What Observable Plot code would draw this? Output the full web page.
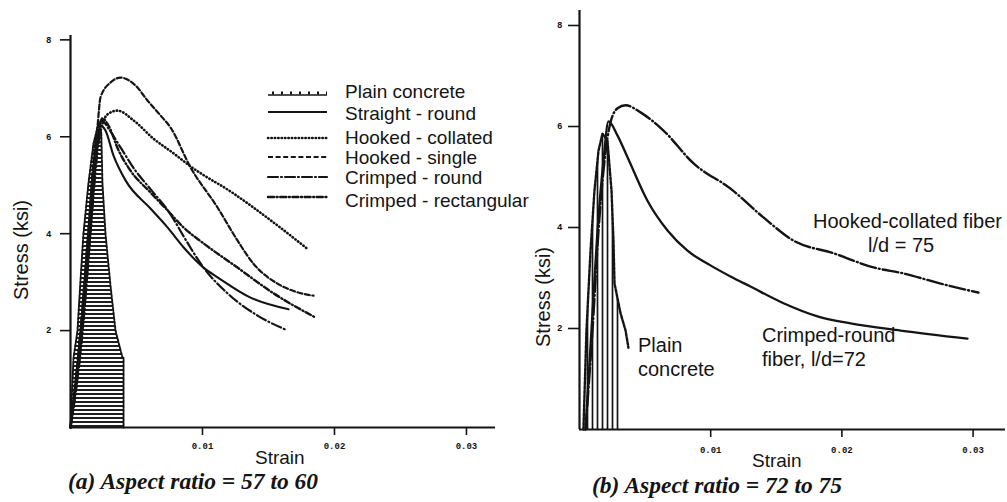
<!DOCTYPE html>
<html>
<head>
<meta charset="utf-8">
<script src="https://cdn.jsdelivr.net/npm/d3@7"></script>
<script src="https://cdn.jsdelivr.net/npm/@observablehq/plot@0.6"></script>
<style>
  body { margin: 0; background: #fff; }
  #root { position: relative; width: 1007px; height: 502px; overflow: hidden; background: #fff; }
  #root svg { position: absolute; top: 0; overflow: visible; }
</style>
</head>
<body>
<div id="root"></div>
<script>
// ---------------- data (strain, stress in ksi) ----------------
const strainTicks = [0.01, 0.02, 0.03];
const stressTicks = [2, 4, 6, 8];

// Panel (a): aspect ratio 57 to 60
const aPlainConcrete = [[0,0],[0.00023,1.44],[0.00053,2.0],[0.00075,3.0],[0.00098,4.0],[0.00136,5.04],[0.00174,5.86],[0.00212,6.27],[0.00233,6.1],[0.00242,5.04],[0.00265,4.0],[0.00303,2.93],[0.00341,2.0],[0.00394,1.44],[0.00402,1.44],[0.00402,0]];
const aStraightRound = [[0,0],[0.00083,2.0],[0.00144,4.07],[0.00197,5.72],[0.00227,6.23],[0.00265,6.13],[0.00326,5.61],[0.00417,5.10],[0.00606,4.52],[0.00735,4.13],[0.00856,3.72],[0.01008,3.30],[0.01114,3.10],[0.01364,2.68],[0.01652,2.44]];
const aHookedCollated = [[0,0],[0.00091,2.0],[0.00152,4.07],[0.00205,5.72],[0.00258,6.38],[0.00303,6.5],[0.00356,6.54],[0.00477,6.34],[0.00629,5.96],[0.0078,5.66],[0.00909,5.39],[0.01235,4.83],[0.01568,4.17],[0.01803,3.67]];
const aHookedSingle = [[0,0],[0.00076,2.0],[0.00136,4.07],[0.00174,5.51],[0.00205,6.23],[0.00227,6.81],[0.00303,7.12],[0.00379,7.22],[0.00492,7.06],[0.00583,6.75],[0.00682,6.44],[0.00758,6.19],[0.00909,5.37],[0.01114,4.54],[0.01265,3.86],[0.01386,3.38],[0.01568,2.97],[0.0172,2.79],[0.01841,2.72]];
const aCrimpedRound = [[0,0],[0.00076,2.0],[0.00136,4.07],[0.00189,5.72],[0.00235,6.34],[0.00288,6.17],[0.00379,5.78],[0.00492,5.30],[0.00606,4.92],[0.00758,4.40],[0.00856,3.95],[0.01008,3.30],[0.01189,2.77],[0.01417,2.31],[0.01629,2.02]];
const aCrimpedRect = [[0,0],[0.00091,2.0],[0.00152,4.07],[0.00197,5.72],[0.00242,6.38],[0.00288,6.23],[0.00364,5.72],[0.00455,5.30],[0.00606,4.85],[0.00735,4.48],[0.00856,4.13],[0.01008,3.80],[0.01265,3.30],[0.01538,2.77],[0.01856,2.27]];

// Panel (b): aspect ratio 72 to 75
const bPlainConcrete = [[0.0003,0],[0.00053,1.96],[0.00084,3.54],[0.00114,4.73],[0.00145,5.52],[0.00175,5.86],[0.00213,5.72],[0.00244,4.73],[0.00259,3.74],[0.00267,2.89],[0.00313,2.30],[0.00351,1.96],[0.00373,1.62]];
const bHookedCollated = [[0.00046,0],[0.00099,1.96],[0.00145,3.94],[0.00191,5.33],[0.00236,6.08],[0.0029,6.36],[0.00351,6.42],[0.00465,6.28],[0.0064,5.92],[0.00869,5.27],[0.01151,4.77],[0.01402,4.20],[0.01631,3.74],[0.01936,3.49],[0.02241,3.21],[0.0247,3.09],[0.02752,2.89],[0.03041,2.71]];
const bCrimpedRound = [[0.00046,0],[0.00091,1.96],[0.00137,3.94],[0.00183,5.33],[0.00221,6.1],[0.0029,5.82],[0.00366,5.39],[0.00518,4.53],[0.00671,3.94],[0.00823,3.54],[0.00998,3.25],[0.01151,3.03],[0.01303,2.83],[0.01555,2.50],[0.01814,2.24],[0.02066,2.10],[0.02447,1.96],[0.02957,1.80]];

const legendNames = ["Plain concrete", "Straight - round", "Hooked - collated", "Hooked - single", "Crimped - round", "Crimped - rectangular"];
const axisLabels = { x: "Strain", y: "Stress (ksi)" };
const captions = ["(a) Aspect ratio = 57 to 60", "(b) Aspect ratio = 72 to 75"];
const bNotes = [["Hooked-collated fiber", "l/d = 75"], ["Crimped-round", "fiber, l/d=72"], ["Plain", "concrete"]];

// ---------------- styles ----------------
const ink = "#141414";
const sty = {
  plain:      { stroke: ink, strokeWidth: 1.9, strokeDasharray: "3,1.5" },
  straight:   { stroke: ink, strokeWidth: 2.1 },
  collated:   { stroke: ink, strokeWidth: 2.6, strokeDasharray: "0.4,3", strokeLinecap: "round" },
  single:     { stroke: ink, strokeWidth: 2.2, strokeDasharray: "5,2.6" },
  crimpRound: { stroke: ink, strokeWidth: 2.2, strokeDasharray: "10,3,1,3", strokeLinecap: "round" },
  crimpRect:  { stroke: ink, strokeWidth: 2.4, strokeDasharray: "6,2.6,1,2.6", strokeLinecap: "round" },
  bCollated:  { stroke: ink, strokeWidth: 2.4, strokeDasharray: "16,3,1,3", strokeLinecap: "round" },
  bCrimped:   { stroke: ink, strokeWidth: 2.3 }
};
const X = d => d[0], Y = d => d[1];
const tickFont = { fontSize: 9, fontWeight: "bold", fontFamily: "Liberation Mono, DejaVu Sans Mono, monospace" };

function addPattern(svg, id, horizontal) {
  const defs = d3.select(svg).insert("defs", ":first-child");
  const p = defs.append("pattern").attr("id", id).attr("patternUnits", "userSpaceOnUse")
    .attr("width", horizontal ? 8 : 5).attr("height", horizontal ? 4 : 8);
  p.append("rect").attr("width", 8).attr("height", 8).attr("fill", "#fff");
  if (horizontal) p.append("line").attr("x1", 0).attr("x2", 8).attr("y1", 2).attr("y2", 2).attr("stroke", ink).attr("stroke-width", 1.9);
  else p.append("line").attr("x1", 2.5).attr("x2", 2.5).attr("y1", 0).attr("y2", 8).attr("stroke", ink).attr("stroke-width", 1.7);
}

// ---------------- panel (a) ----------------
const panelA = Plot.plot({
  width: 500, height: 502,
  marginLeft: 70, marginRight: 5, marginTop: 35, marginBottom: 75,
  x: { domain: [0, 0.0322] },
  y: { domain: [0, 8.09] },
  style: { background: "transparent", color: ink },
  marks: [
    Plot.areaY(aPlainConcrete, { x: X, y: Y, fill: "url(#hatchA)", curve: "linear" }),
    Plot.line(aPlainConcrete, { x: X, y: Y, curve: "linear", ...sty.plain }),
    Plot.line(aStraightRound, { x: X, y: Y, curve: "monotone-x", ...sty.straight }),
    Plot.line(aHookedCollated, { x: X, y: Y, curve: "monotone-x", ...sty.collated }),
    Plot.line(aHookedSingle, { x: X, y: Y, curve: "monotone-x", ...sty.single }),
    Plot.line(aCrimpedRound, { x: X, y: Y, curve: "monotone-x", ...sty.crimpRound }),
    Plot.line(aCrimpedRect, { x: X, y: Y, curve: "monotone-x", ...sty.crimpRect }),
    Plot.ruleX([0], { stroke: ink, strokeWidth: 2.2 }),
    Plot.ruleY([0], { stroke: ink, strokeWidth: 2.2 }),
    Plot.axisX({ ticks: strainTicks, tickFormat: d => d.toFixed(2), tickSize: 8, tickPadding: 7, strokeWidth: 1.6, label: null, ...tickFont }),
    Plot.axisY({ ticks: stressTicks, tickSize: 10, tickPadding: 9, strokeWidth: 1.6, label: null, ...tickFont })
  ]
});
addPattern(panelA, "hatchA", true);
panelA.style.left = "0px";

// ---------------- panel (b) ----------------
const panelB = Plot.plot({
  width: 507, height: 502,
  marginLeft: 79, marginRight: 2, marginTop: 10, marginBottom: 73,
  x: { domain: [0, 0.03247] },
  y: { domain: [0, 8.297] },
  style: { background: "transparent", color: ink },
  marks: [
    Plot.areaY(bPlainConcrete.filter(d => d[0] <= 0.0032), { x: X, y: Y, fill: "url(#hatchB)", curve: "linear" }),
    Plot.line(bPlainConcrete, { x: X, y: Y, curve: "linear", ...sty.plain, strokeWidth: 2.4 }),
    Plot.line(bHookedCollated, { x: X, y: Y, curve: "monotone-x", ...sty.bCollated }),
    Plot.line(bCrimpedRound, { x: X, y: Y, curve: "monotone-x", ...sty.bCrimped }),
    Plot.ruleX([0], { stroke: ink, strokeWidth: 2.2 }),
    Plot.ruleY([0], { stroke: ink, strokeWidth: 2.2 }),
    Plot.axisX({ ticks: strainTicks, tickFormat: d => d.toFixed(2), tickSize: 8, tickPadding: 9, strokeWidth: 1.6, label: null, ...tickFont }),
    Plot.axisY({ ticks: stressTicks, tickSize: 11, tickPadding: 6, strokeWidth: 1.6, label: null, ...tickFont })
  ]
});
addPattern(panelB, "hatchB", false);
panelB.style.left = "500px";

const root = document.getElementById("root");
root.appendChild(panelA);
root.appendChild(panelB);

// ---------------- text overlay: labels, legend, notes, captions ----------------
const sans = "Liberation Sans, Arial, sans-serif";
const serif = "Liberation Serif, Times New Roman, serif";
const ov = d3.create("svg").attr("width", 1007).attr("height", 502).style("left", "0px");

function txt(s, x, y, opts = {}) {
  const t = ov.append("text").attr("x", x).attr("y", y).text(s)
    .attr("font-family", opts.family || sans).attr("font-size", opts.size || 20)
    .attr("fill", ink).attr("text-anchor", opts.anchor || "start");
  if (opts.italic) t.attr("font-style", "italic");
  if (opts.bold) t.attr("font-weight", "bold");
  if (opts.rotate) t.attr("transform", `rotate(${opts.rotate},${x},${y})`);
  return t;
}

// axis titles
txt(axisLabels.y, 28, 250, { anchor: "middle", rotate: -90, size: 20 });
txt(axisLabels.y, 550, 297, { anchor: "middle", rotate: -90, size: 20 });
txt(axisLabels.x, 255, 464, { size: 19 });
txt(axisLabels.x, 752, 467, { size: 19 });

// captions
txt(captions[0], 68, 489, { family: serif, italic: true, bold: true, size: 23.5 });
txt(captions[1], 592, 493, { family: serif, italic: true, bold: true, size: 23.5 });

// legend of panel (a)
const legendStyles = [sty.plain, sty.straight, sty.collated, sty.single, sty.crimpRound, sty.crimpRect];
const legendTextY = [98, 120, 144, 164, 184, 207];
const legendLineY = [95, 112, 138, 157, 177, 197];
legendNames.forEach((name, i) => {
  const s = legendStyles[i];
  const ln = ov.append("line").attr("x1", 268).attr("x2", 327).attr("y1", legendLineY[i]).attr("y2", legendLineY[i])
    .attr("stroke", ink).attr("stroke-width", s.strokeWidth);
  if (i === 0) {
    ln.attr("stroke-width", 1.6);
    ov.append("line").attr("x1", 272).attr("x2", 327).attr("y1", legendLineY[i] - 2).attr("y2", legendLineY[i] - 2)
      .attr("stroke", ink).attr("stroke-width", 3).attr("stroke-dasharray", "2,7");
  } else {
    if (s.strokeDasharray) ln.attr("stroke-dasharray", s.strokeDasharray);
    if (s.strokeLinecap) ln.attr("stroke-linecap", s.strokeLinecap);
  }
  txt(name, 345, legendTextY[i], { size: 19 });
});

// notes of panel (b)
txt(bNotes[0][0], 813, 228, { size: 20 });
txt(bNotes[0][1], 868, 252, { size: 20 });
txt(bNotes[1][0], 762, 342, { size: 20 });
txt(bNotes[1][1], 762, 366, { size: 20 });
txt(bNotes[2][0], 638, 352, { size: 20 });
txt(bNotes[2][1], 638, 376, { size: 20 });

root.appendChild(ov.node());
</script>
</body>
</html>
